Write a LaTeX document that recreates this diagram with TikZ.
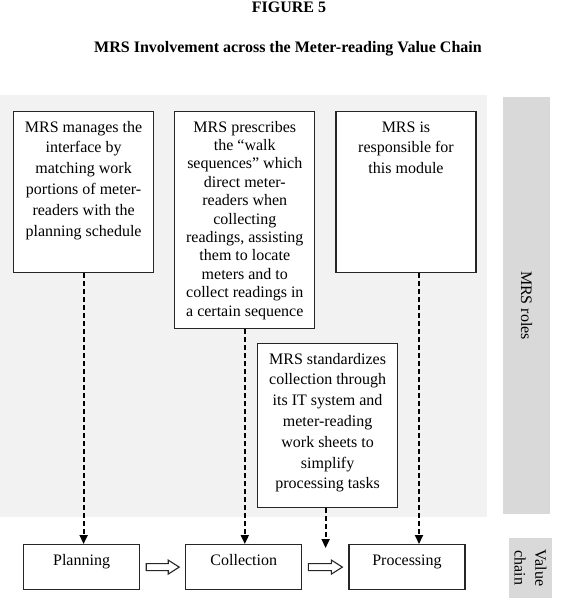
\documentclass[tikz,border=0pt]{standalone}
\usepackage{fontspec}
\setmainfont{Liberation Serif}
\usetikzlibrary{arrows.meta,positioning,calc}

\definecolor{panelgrey}{HTML}{F2F2F2}
\definecolor{tabgrey}{HTML}{D9D9D9}

% box text sits at the top of its frame
\newcommand{\celltext}[4][20.8pt]{\parbox[t][#3][t]{#2}{\fontsize{16pt}{#1}\selectfont\centering\rule{0pt}{20.5pt}#4}}

\begin{document}
\begin{tikzpicture}[
                x=1pt, y=-1pt,
                font=\fontsize{16pt}{20.8pt}\selectfont,
                headline/.style={font=\fontsize{16pt}{20pt}\selectfont\bfseries, anchor=base},
                rolebox/.style={draw=black!85, line width=1.2pt, fill=white, inner sep=0pt, anchor=north west},
                sidetag/.style={fill=tabgrey, inner sep=0pt, rotate=-90, align=center},
                dasharrow/.style={-{Triangle[length=9pt, width=8pt]}, line width=1.8pt, dash pattern=on 5pt off 3pt},
                blockarrow/.style={draw=black!85, line width=1.1pt, fill=white, to path={
                    let \p1=(\tikztostart), \p2=(\tikztotarget) in
                    (\x1,\y1+3.5pt) -- (\x2-11pt,\y1+3.5pt) -- (\x2-11pt,\y1+7pt) -- (\x2,\y1)
                    -- (\x2-11pt,\y1-7pt) -- (\x2-11pt,\y1-3.5pt) -- (\x1,\y1-3.5pt) -- cycle}}
            ]
            \useasboundingbox (0,0) rectangle (562,603);
            \fill[panelgrey] (0,95) rectangle (487,517);
            \node[headline] (fig) at (289,12) {FIGURE 5};
            \node[headline] (ttl) at (288,52) {MRS Involvement across the Meter-reading Value Chain};
            % MRS roles
            \node[rolebox] (roleplan) at (13,111) {\celltext{140pt}{161pt}{MRS manages the\\ interface by\\ matching work\\ portions of meter-\\ readers with the\\ planning schedule}};
            \node[rolebox, right=20pt of roleplan.north east, anchor=north west] (rolewalk) {\celltext[18.4pt]{140pt}{217pt}{MRS prescribes\\ the “walk\\ sequences” which\\ direct meter-\\ readers when\\ collecting\\ readings, assisting\\ them to locate\\ meters and to\\ collect readings in\\ a certain sequence}};
            \node[rolebox, right=20pt of rolewalk.north east, anchor=north west] (roleproc) {\celltext{140pt}{161pt}{MRS is\\ responsible for\\ this module}};
            \node[rolebox] (rolestd) at (257,343) {\celltext{140pt}{164pt}{MRS standardizes\\ collection through\\ its IT system and\\ meter-reading\\ work sheets to\\ simplify\\ processing tasks}};
            % value chain
            \node[rolebox] (plan) at (23,544) {\celltext{116pt}{45pt}{Planning}};
            \node[rolebox, right=45pt of plan] (coll) {\celltext{116pt}{45pt}{Collection}};
            \node[rolebox, right=46pt of coll] (proc) {\celltext{116pt}{45pt}{Processing}};
            \node[sidetag, minimum width=417pt, minimum height=47pt] (tagroles) at (526.5,305.5) {MRS roles};
            \node[sidetag, minimum width=60pt, minimum height=43pt] (tagchain) at (530.5,568) {Value\\chain};
            \draw[blockarrow] ($(plan.east)+(6,0)$) to ($(coll.west)+(-6,0)$);
            \draw[blockarrow] ($(coll.east)+(6,0)$) to ($(proc.west)+(-6,0)$);
            \coordinate (stdend) at ($(rolestd.south |- coll.north)+(-2,4)$);
            \coordinate (procin) at ($(roleproc.south)+(13,0)$);
            \draw[dasharrow] (roleplan.south) -- (roleplan.south |- plan.north);
            \draw[dasharrow] (rolewalk.south) -- (rolewalk.south |- coll.north);
            \draw[dasharrow] (procin) -- (procin |- proc.north);
            \draw[dasharrow] (rolestd.south -| stdend) -- (stdend);
        \end{tikzpicture}
\end{document}
